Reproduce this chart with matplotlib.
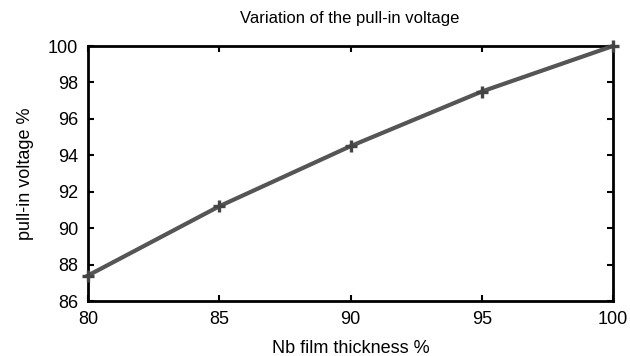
import matplotlib
matplotlib.use("Agg")
import matplotlib.pyplot as plt

# Pull-in voltage versus Nb film thickness, both relative (%)
thickness = [80, 85, 90, 95, 100]
pull_in = [87.4, 91.2, 94.5, 97.5, 100.0]

x_ticks = [80, 85, 90, 95, 100]
y_ticks = [86, 88, 90, 92, 94, 96, 98, 100]

plt.rcParams['font.family'] = ['Liberation Sans', 'DejaVu Sans']
plt.rcParams['font.size'] = 13

fig = plt.figure(figsize=(6.3, 3.56), dpi=100)
ax = fig.add_axes([88/630, 1 - 301/356, (613-88)/630, (301-46)/356])

ax.plot(thickness, pull_in, color='#555555', lw=3, marker='+', ms=8,
        mew=2.4, mec='#444444', clip_on=False, zorder=3)

ax.set_xlim(80, 100)
ax.set_ylim(86, 100)
ax.set_xticks(x_ticks)
ax.set_yticks(y_ticks)
ax.tick_params(direction='in', length=4, width=1.5, top=True, right=True,
               labelsize=13, pad=7)
for s in ax.spines.values():
    s.set_linewidth(2)

ax.set_xlabel('Nb film thickness %', fontsize=13, labelpad=9)
ax.set_ylabel('pull-in voltage %', fontsize=13, labelpad=10)
fig.text(350/630, 1 - 18/356, 'Variation of the pull-in voltage',
         ha='center', va='center', fontsize=12)

fig.savefig('out.png', dpi=100)
